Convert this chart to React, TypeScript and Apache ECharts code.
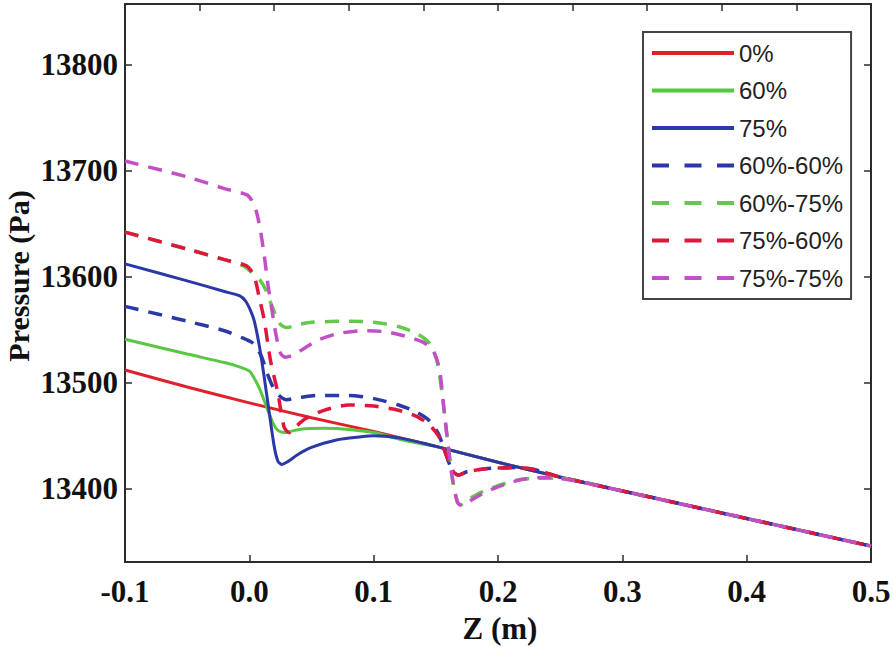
import React, { useEffect, useRef } from "react";
import * as echarts from "echarts";

// ---- data ----
const xTicks = [-0.1, 0, 0.1, 0.2, 0.3, 0.4, 0.5];
const yTicks = [13400, 13500, 13600, 13700, 13800];
const topTicks = [-0.04, 0.02, 0.08, 0.14, 0.2, 0.26, 0.32, 0.38, 0.44];

const seriesNames = ["0%", "60%", "75%", "60%-60%", "60%-75%", "75%-60%", "75%-75%"];

// common tail (all curves merge)
const zTail = [0.3, 0.35, 0.4, 0.45, 0.5];
const pTail = [13398, 13385, 13372, 13359, 13346];

const zRed = [-0.1, -0.05, 0, 0.05, 0.1, 0.15, 0.2, 0.25];
const pRed = [13512, 13496, 13481, 13467, 13454, 13440, 13425, 13411];

const zGreen = [-0.1, -0.05, -0.02, -0.008, 0, 0.003, 0.008, 0.014, 0.019, 0.023, 0.028, 0.04, 0.06, 0.08, 0.1, 0.12, 0.14, 0.15, 0.2, 0.25];
const pGreen = [13541, 13527, 13519, 13515, 13511, 13506, 13495, 13477, 13462, 13455, 13453, 13456, 13457, 13456, 13453, 13447, 13442, 13440, 13425, 13411];

const zBlue = [-0.1, -0.05, -0.02, -0.008, -0.003, 0.001, 0.004, 0.008, 0.012, 0.016, 0.02, 0.023, 0.026, 0.03, 0.04, 0.05, 0.07, 0.09, 0.1, 0.12, 0.14, 0.15, 0.2, 0.25];
const pBlue = [13612, 13596, 13586, 13582, 13577, 13568, 13558, 13535, 13505, 13472, 13440, 13426, 13423, 13425, 13433, 13439, 13446, 13449, 13450, 13448, 13443, 13440, 13425, 13411];

const zBlueDash = [-0.1, -0.05, -0.02, -0.005, 0.002, 0.006, 0.01, 0.014, 0.019, 0.024, 0.03, 0.04, 0.055, 0.08, 0.1, 0.12, 0.135, 0.145, 0.152, 0.158, 0.163, 0.168, 0.175, 0.19, 0.215, 0.23, 0.25];
const pBlueDash = [13572, 13558, 13549, 13542, 13538, 13533, 13524, 13510, 13496, 13488, 13484, 13486, 13488, 13488, 13485, 13479, 13472, 13464, 13452, 13433, 13418, 13413, 13416, 13419, 13420, 13418, 13411];

const zGreenDash = [-0.1, -0.05, -0.02, -0.005, 0.002, 0.005, 0.009, 0.013, 0.017, 0.021, 0.025, 0.03, 0.04, 0.05, 0.08, 0.1, 0.12, 0.135, 0.145, 0.151, 0.155, 0.159, 0.163, 0.167, 0.17, 0.175, 0.185, 0.2, 0.215, 0.23, 0.25, 0.27];
const pGreenDash = [13642, 13626, 13616, 13610, 13604, 13600, 13596, 13588, 13576, 13564, 13555, 13552, 13555, 13557, 13558, 13557, 13553, 13546, 13537, 13520, 13490, 13450, 13412, 13388, 13385, 13389, 13396, 13403, 13408, 13410, 13410, 13406];

const zRedDash = [-0.1, -0.05, -0.02, -0.002, 0.004, 0.008, 0.012, 0.017, 0.023, 0.028, 0.032, 0.036, 0.045, 0.06, 0.08, 0.1, 0.12, 0.135, 0.145, 0.152, 0.158, 0.163, 0.168, 0.175, 0.19, 0.215, 0.23, 0.25];
const pRedDash = [13642, 13626, 13616, 13610, 13600, 13580, 13559, 13521, 13490, 13458, 13453, 13457, 13466, 13474, 13479, 13478, 13474, 13468, 13460, 13450, 13433, 13418, 13413, 13416, 13419, 13420, 13418, 13411];

const zMagenta = [-0.1, -0.05, -0.02, -0.002, 0.003, 0.006, 0.009, 0.012, 0.015, 0.018, 0.021, 0.025, 0.029, 0.035, 0.045, 0.055, 0.07, 0.09, 0.11, 0.125, 0.14, 0.148, 0.153, 0.157, 0.161, 0.164, 0.168, 0.172, 0.178, 0.19, 0.205, 0.22, 0.24, 0.26];
const pMagenta = [13709, 13694, 13683, 13677, 13670, 13660, 13643, 13620, 13592, 13570, 13548, 13528, 13524, 13526, 13533, 13540, 13546, 13549, 13548, 13544, 13538, 13530, 13512, 13470, 13430, 13405, 13386, 13384, 13389, 13397, 13404, 13409, 13411, 13408];

const zs = [zRed, zGreen, zBlue, zBlueDash, zGreenDash, zRedDash, zMagenta];
const ps = [pRed, pGreen, pBlue, pBlueDash, pGreenDash, pRedDash, pMagenta];

const colors = ["#e0202a", "#58c842", "#2b38a8", "#2b38a8", "#62c94c", "#e0173c", "#c24fc4"];
const dashed = [false, false, false, true, true, true, true];

const serif = "'Liberation Serif', 'Times New Roman', serif";
const sans = "'Liberation Sans', Arial, sans-serif";
const axisColor = "#2b2b2b";

export default function App() {
  const ref = useRef<HTMLDivElement>(null);
  useEffect(() => {
    const chart = echarts.init(ref.current as HTMLDivElement, null, { renderer: "svg" });
    const series = seriesNames.map((name, i) => {
      const zAll = zs[i].concat(zTail);
      const pAll = ps[i].concat(pTail);
      return {
        name,
        type: "line",
        xAxisIndex: 0,
        yAxisIndex: 0,
        data: zAll.map((z, k) => [z, pAll[k]]),
        showSymbol: false,
        symbol: "none",
        smooth: 0.25,
        lineStyle: { color: colors[i], width: dashed[i] ? 3.5 : 3, type: dashed[i] ? [14, 10] : "solid" },
        itemStyle: { color: colors[i] },
        z: 2 + i,
      };
    });
    const legendData = seriesNames.map((name, i) =>
      dashed[i]
        ? { name, lineStyle: { type: [17, 15.5], width: 4 } }
        : { name, lineStyle: { width: 4 } }
    );
    chart.setOption({
      animation: false,
      backgroundColor: "#ffffff",
      grid: { left: 125, right: 23, top: 4, bottom: 85, containLabel: false, outerBoundsMode: "none" },
      legend: {
        orient: "vertical",
        left: 643,
        top: 32,
        data: legendData,
        itemWidth: 82,
        itemHeight: 14,
        itemGap: 7.5,
        padding: [6, 8, 6, 7],
        borderColor: "#444",
        borderWidth: 2,
        backgroundColor: "#fff",
        itemStyle: { opacity: 0 },
        textStyle: { fontFamily: sans, fontSize: 24, color: "#222", lineHeight: 30 },
        selectedMode: false,
      },
      xAxis: [
        {
          type: "value",
          position: "bottom",
          min: xTicks[0],
          max: xTicks[xTicks.length - 1],
          interval: 0.1,
          axisLine: { show: true, onZero: false, lineStyle: { color: axisColor, width: 2 } },
          axisTick: { show: true, inside: true, length: 7, lineStyle: { color: axisColor, width: 1.5 } },
          axisLabel: {
            show: true,
            margin: 14,
            showMinLabel: true,
            showMaxLabel: true,
            fontFamily: serif,
            fontWeight: "bold",
            fontSize: 31,
            color: "#111",
            formatter: (v: number) => (Math.abs(v) < 1e-9 ? 0 : v).toFixed(1),
          },
          splitLine: { show: false },
        },
        {
          type: "value",
          position: "top",
          min: xTicks[0],
          max: xTicks[xTicks.length - 1],
          axisLine: { show: true, onZero: false, lineStyle: { color: axisColor, width: 2 } },
          axisTick: { show: true, inside: true, length: 7, customValues: topTicks, lineStyle: { color: axisColor, width: 1.5 } },
          axisLabel: { show: false },
          splitLine: { show: false },
        },
      ],
      yAxis: [
        {
          type: "value",
          position: "left",
          min: 13331,
          max: 13857,
          axisLine: { show: true, onZero: false, lineStyle: { color: axisColor, width: 2 } },
          axisTick: { show: true, inside: true, length: 7, customValues: yTicks, lineStyle: { color: axisColor, width: 1.5 } },
          axisLabel: {
            show: true,
            margin: 7,
            customValues: yTicks,
            fontFamily: serif,
            fontWeight: "bold",
            fontSize: 31,
            color: "#111",
            formatter: (v: number) => String(Math.round(v)),
          },
          splitLine: { show: false },
        },
        {
          type: "value",
          position: "right",
          min: 13331,
          max: 13857,
          axisLine: { show: true, onZero: false, lineStyle: { color: axisColor, width: 2 } },
          axisTick: { show: true, inside: true, length: 7, customValues: yTicks, lineStyle: { color: axisColor, width: 1.5 } },
          axisLabel: { show: false },
          splitLine: { show: false },
        },
      ],
      graphic: [
        {
          type: "text",
          x: 18,
          y: 276,
          rotation: Math.PI / 2,
          style: {
            text: "Pressure (Pa)",
            fontFamily: serif,
            fontWeight: "bold",
            fontSize: 30,
            fill: "#111",
            textAlign: "center",
            textVerticalAlign: "middle",
          },
        },
        {
          type: "text",
          x: 500,
          y: 628,
          style: {
            text: "Z (m)",
            fontFamily: serif,
            fontWeight: "bold",
            fontSize: 31,
            fill: "#111",
            textAlign: "center",
            textVerticalAlign: "middle",
          },
        },
      ],
      series,
    });
    return () => chart.dispose();
  }, []);
  return (
    <div
      ref={ref}
      style={{ position: "fixed", left: 0, top: 0, width: 894, height: 647, background: "#fff" }}
    />
  );
}
